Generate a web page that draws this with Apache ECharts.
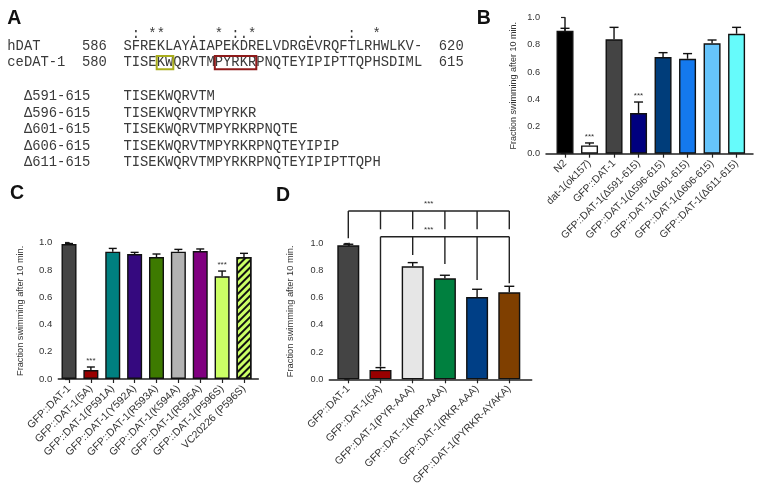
<!DOCTYPE html>
<html>
<head>
<meta charset="utf-8">
<script src="https://cdn.jsdelivr.net/npm/echarts@6/dist/echarts.min.js"></script>
<style>
  html, body { margin: 0; background: #fff; }
  #chart { width: 761px; height: 493px; }
</style>
</head>
<body>
<div id="chart"></div>
<script>
// --- panel A: alignment text ---
const hdatName = "hDAT";
const hdatStart = "586";
const hdatSeq = "SFREKLAYAIAPEKDRELVDRGEVRQFTLRHWLKV-";
const hdatEnd = "620";
const ceName = "ceDAT-1";
const ceStart = "580";
const ceSeq = "TISEKWQRVTMPYRKRPNQTEYIPIPTTQPHSDIML";
const ceEnd = "615";
const consMarks = " : **   .  * :.*      .    :  *";
const deletionNames = ["Δ591-615", "Δ596-615", "Δ601-615", "Δ606-615", "Δ611-615"];
const deletionSeqs = [
  "TISEKWQRVTM",
  "TISEKWQRVTMPYRKR",
  "TISEKWQRVTMPYRKRPNQTE",
  "TISEKWQRVTMPYRKRPNQTEYIPIP",
  "TISEKWQRVTMPYRKRPNQTEYIPIPTTQPH"
];
// boxed residues in ceDAT-1 (start index, length)
const kwBox = [4, 2];
const pyrkrBox = [11, 5];

// --- panel B ---
const bLabels = ["N2", "dat-1(ok157)", "GFP::DAT-1", "GFP::DAT-1(Δ591-615)", "GFP::DAT-1(Δ596-615)",
  "GFP::DAT-1(Δ601-615)", "GFP::DAT-1(Δ606-615)", "GFP::DAT-1(Δ611-615)"];
const bMeans = [0.904, 0.061, 0.841, 0.299, 0.711, 0.698, 0.812, 0.882];
const bErrors = [0.018, 0.018, 0.088, 0.081, 0.032, 0.038, 0.024, 0.047];
const bStars = [0, 1, 0, 1, 0, 0, 0, 0];
const bColors = ["#000000", "#ffffff", "#444444", "#00007f", "#003d7a", "#1479ee", "#66c4fb", "#66fbfb"];

// --- panel C ---
const cLabels = ["GFP::DAT-1", "GFP::DAT-1(5A)", "GFP::DAT-1(P591A)", "GFP::DAT-1(Y592A)", "GFP::DAT-1(R593A)",
  "GFP::DAT-1(K594A)", "GFP::DAT-1(R595A)", "GFP::DAT-1(P596S)", "VC20226 (P596S)"];
const cMeans = [0.99, 0.066, 0.934, 0.917, 0.895, 0.934, 0.939, 0.753, 0.895];
const cErrors = [0.004, 0.022, 0.024, 0.012, 0.022, 0.017, 0.015, 0.039, 0.027];
const cStars = [0, 1, 0, 0, 0, 0, 0, 1, 0];
const cColors = ["#444444", "#990000", "#008080", "#35097f", "#3d7a00", "#b3b3b3", "#800080", "#ccff66", "#ccff66"];
const cHatched = [0, 0, 0, 0, 0, 0, 0, 0, 1];

// --- panel D ---
const dLabels = ["GFP::DAT-1", "GFP::DAT-1(5A)", "GFP::DAT-1(PYR-AAA)", "GFP::DAT--1(KRP-AAA)",
  "GFP::DAT-1(RKR-AAA)", "GFP::DAT-1(PYRKR-AYAKA)"];
const dMeans = [0.985, 0.069, 0.831, 0.743, 0.605, 0.64];
const dErrors = [0.008, 0.017, 0.027, 0.022, 0.057, 0.044];
const dStars = [0, 0, 0, 0, 0, 0];
const dColors = ["#444444", "#990000", "#e6e6e6", "#00803f", "#003f86", "#7f3f00"];
// significance brackets (y levels in axis units)
const dUpperLevel = 1.238;
const dUpperDropEnds = [1.037, 1.103, 1.103, 1.103, 1.103, 1.103];
const dLowerLevel = 1.048;
const dLowerDropEnds = [null, 0.093, 0.914, 0.848, 0.73, 0.706];
const dBracketStars = [[2.5, dUpperLevel], [2.5, dLowerLevel]];

const yTitle = "Fraction swimming after 10 min.";
const ink = "#333";
const axisInk = "#222";
const sansFont = '"Liberation Sans", Arial, sans-serif';
const monoFont = '"Liberation Mono", "DejaVu Sans Mono", monospace';

const chart = echarts.init(document.getElementById("chart"));

function xAxisFor(gridIndex, labels, min, max, fontSize) {
  const ticks = labels.map((_, i) => i);
  return {
    type: "value", gridIndex, min, max,
    axisLine: { show: true, lineStyle: { color: axisInk, width: 1.5 } },
    axisTick: { show: true, length: 4, customValues: ticks, lineStyle: { color: axisInk, width: 1.2 } },
    axisLabel: {
      customValues: ticks, rotate: 45, margin: 8, fontSize, color: ink, fontFamily: sansFont,
      formatter: (v) => labels[Math.round(v)] || ""
    },
    splitLine: { show: false }
  };
}

function yAxisFor(gridIndex, fontSize, nameSize, nameGap) {
  return {
    type: "value", gridIndex, min: 0, max: 1, interval: 0.2,
    name: yTitle, nameLocation: "middle", nameGap, nameRotate: 90,
    nameTextStyle: { fontSize: nameSize, color: ink, fontFamily: sansFont },
    axisLine: { show: true, lineStyle: { color: axisInk, width: 1.5 } },
    axisTick: { show: true, length: 4, lineStyle: { color: axisInk, width: 1.2 } },
    axisLabel: { fontSize, color: ink, margin: 6, fontFamily: sansFont, formatter: (v) => v.toFixed(1) },
    splitLine: { show: false }
  };
}

const hatch = {
  symbol: "rect", symbolSize: 1, color: "#111",
  dashArrayX: [1, 0], dashArrayY: [2, 3], rotation: -Math.PI / 4
};

function barSeries(idx, means, colors, width, hatched) {
  return {
    type: "bar", xAxisIndex: idx, yAxisIndex: idx, barWidth: width, z: 2,
    data: means.map((m, i) => ({
      value: [i, m],
      itemStyle: {
        color: colors[i], borderColor: "#111", borderWidth: 1.4,
        decal: hatched && hatched[i] ? hatch : null
      }
    }))
  };
}

function errorSeries(idx, means, errs, stars, cap, starSize) {
  return {
    type: "custom", xAxisIndex: idx, yAxisIndex: idx, clip: false, z: 3,
    data: means.map((m, i) => [i, m, errs[i], stars[i]]),
    renderItem: (params, api) => {
      const x = api.value(0);
      const m = api.value(1);
      const p0 = api.coord([x, m]);
      const p1 = api.coord([x, m + api.value(2)]);
      const style = { stroke: "#111", lineWidth: 1.4 };
      const children = [
        { type: "line", shape: { x1: p0[0], y1: p0[1], x2: p1[0], y2: p1[1] }, style },
        { type: "line", shape: { x1: p1[0] - cap, y1: p1[1], x2: p1[0] + cap, y2: p1[1] }, style }
      ];
      if (api.value(3)) {
        children.push({
          type: "text",
          style: { text: "***", x: p1[0], y: p1[1] - 2, align: "center", verticalAlign: "bottom",
            fontSize: starSize, fill: ink, fontFamily: sansFont }
        });
      }
      return { type: "group", children };
    }
  };
}

// bracket segments for panel D
const dSegments = [[0, dUpperLevel, dMeans.length - 1, dUpperLevel]];
dUpperDropEnds.forEach((y, i) => dSegments.push([i, dUpperLevel, i, y]));
dSegments.push([1, dLowerLevel, dMeans.length - 1, dLowerLevel]);
dLowerDropEnds.forEach((y, i) => { if (y !== null) dSegments.push([i, dLowerLevel, i, y]); });

const bracketSeries = {
  type: "custom", xAxisIndex: 2, yAxisIndex: 2, clip: false, z: 4,
  data: dSegments,
  renderItem: (params, api) => {
    const a = api.coord([api.value(0), api.value(1)]);
    const b = api.coord([api.value(2), api.value(3)]);
    return { type: "line", shape: { x1: a[0], y1: a[1], x2: b[0], y2: b[1] }, style: { stroke: "#222", lineWidth: 1.4 } };
  }
};

const bracketStarSeries = {
  type: "custom", xAxisIndex: 2, yAxisIndex: 2, clip: false, z: 4,
  data: dBracketStars,
  renderItem: (params, api) => {
    const p = api.coord([api.value(0), api.value(1)]);
    return { type: "text", style: { text: "***", x: p[0], y: p[1] - 3, align: "center", verticalAlign: "bottom",
      fontSize: 8, fill: ink, fontFamily: sansFont } };
  }
};

// panel A graphics
const charW = 8.3;
const textLeft = 7.3;
const seqCol = 14;
const monoSize = 13.83;
function row(text, y) {
  return { type: "text", x: textLeft, y, style: { text, font: monoSize + "px " + monoFont, fill: "#3a3a3a", verticalAlign: "middle" } };
}
const rowsA = [
  row(" ".repeat(seqCol) + consMarks, 34),
  row(hdatName.padEnd(9) + hdatStart.padEnd(5) + hdatSeq + "  " + hdatEnd, 46.7),
  row(ceName.padEnd(9) + ceStart.padEnd(5) + ceSeq + "  " + ceEnd, 62.7)
];
deletionNames.forEach((name, i) => {
  rowsA.push(row(("  " + name).padEnd(seqCol) + deletionSeqs[i], 96.7 + i * 16.5));
});
function box(spec, color) {
  return {
    type: "rect",
    shape: { x: textLeft + (seqCol + spec[0]) * charW, y: 56, width: spec[1] * charW, height: 13.3 },
    style: { fill: null, stroke: color, lineWidth: 2 }
  };
}
function letter(text, x, y) {
  return { type: "text", x, y, style: { text, font: "bold 19.5px " + sansFont, fill: "#111", verticalAlign: "middle" } };
}

chart.setOption({
  animation: false,
  backgroundColor: "#fff",
  grid: [
    { left: 546, top: 17.7, width: 207, height: 136, outerBoundsMode: "none" },
    { left: 58.3, top: 242.7, width: 200, height: 136.3, outerBoundsMode: "none" },
    { left: 329.3, top: 243.3, width: 202.4, height: 136, outerBoundsMode: "none" }
  ],
  xAxis: [
    xAxisFor(0, bLabels, -0.776, 7.67, 10.3),
    xAxisFor(1, cLabels, -0.49, 8.655, 10.5),
    xAxisFor(2, dLabels, -0.59, 5.696, 10.3)
  ],
  yAxis: [
    yAxisFor(0, 9.2, 9, 28),
    yAxisFor(1, 9.6, 9.2, 33),
    yAxisFor(2, 9.2, 9.3, 34)
  ],
  series: [
    barSeries(0, bMeans, bColors, 17),
    errorSeries(0, bMeans, bErrors, bStars, 4.5, 8),
    barSeries(1, cMeans, cColors, 15, cHatched),
    errorSeries(1, cMeans, cErrors, cStars, 4, 8),
    barSeries(2, dMeans, dColors, 22),
    errorSeries(2, dMeans, dErrors, dStars, 5, 8),
    bracketSeries,
    bracketStarSeries
  ],
  graphic: [
    ...rowsA,
    box(kwBox, "#a9ad1c"),
    box(pyrkrBox, "#8e1a1a"),
    letter("A", 7.3, 19),
    letter("B", 476.7, 18.3),
    letter("C", 10, 194),
    letter("D", 276, 195.7)
  ]
});
</script>
</body>
</html>
